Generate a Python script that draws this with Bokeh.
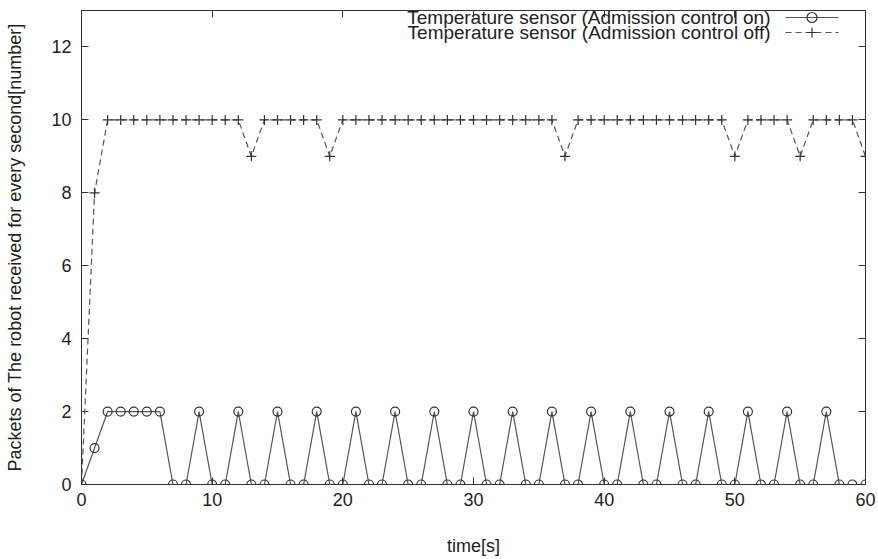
from bokeh.plotting import figure
from bokeh.models import (Range1d, LinearAxis, FixedTicker, Label, BoxAnnotation,
                          ColumnDataSource)
from bokeh.embed import file_html
from bokeh.resources import INLINE

# ---- data ----
time_s = [0, 1, 2, 3, 4, 5, 6, 7, 8, 9, 10, 11, 12, 13, 14, 15, 16, 17, 18, 19, 20,
          21, 22, 23, 24, 25, 26, 27, 28, 29, 30, 31, 32, 33, 34, 35, 36, 37, 38, 39, 40,
          41, 42, 43, 44, 45, 46, 47, 48, 49, 50, 51, 52, 53, 54, 55, 56, 57, 58, 59, 60]
admission_on = [0, 1, 2, 2, 2, 2, 2, 0, 0, 2, 0, 0, 2, 0, 0, 2, 0, 0, 2, 0, 0,
                2, 0, 0, 2, 0, 0, 2, 0, 0, 2, 0, 0, 2, 0, 0, 2, 0, 0, 2, 0,
                0, 2, 0, 0, 2, 0, 0, 2, 0, 0, 2, 0, 0, 2, 0, 0, 2, 0, 0, 0]
admission_off = [0, 8, 10, 10, 10, 10, 10, 10, 10, 10, 10, 10, 10, 9, 10, 10, 10, 10, 10, 9, 10,
                 10, 10, 10, 10, 10, 10, 10, 10, 10, 10, 10, 10, 10, 10, 10, 10, 9, 10, 10, 10,
                 10, 10, 10, 10, 10, 10, 10, 10, 10, 9, 10, 10, 10, 10, 9, 10, 10, 10, 10, 9]
x_ticks = [0, 10, 20, 30, 40, 50, 60]
y_ticks = [0, 2, 4, 6, 8, 10, 12]
label_on = "Temperature sensor (Admission control on)"
label_off = "Temperature sensor (Admission control off)"
x_title = "time[s]"
y_title = "Packets of The robot received for every second[number]"

FONT = "Liberation Sans"
FS = "18px"
INK = "#222222"
LINE = "#555555"
MARK = "#333333"

src = ColumnDataSource(dict(t=time_s, on=admission_on, off=admission_off))

p = figure(width=876, height=558, output_backend="svg", toolbar_location=None,
           x_range=Range1d(0, 60), y_range=Range1d(0, 13),
           min_border_left=81, min_border_right=11, min_border_top=10, min_border_bottom=72)
p.background_fill_color = "white"
p.border_fill_color = "white"
p.outline_line_color = "#333333"
p.outline_line_width = 1
p.xgrid.visible = False
p.ygrid.visible = False

for ax in (p.xaxis[0], p.yaxis[0]):
    ax.major_tick_in = 7
    ax.major_tick_out = 0
    ax.minor_tick_in = 0
    ax.minor_tick_out = 0
    ax.axis_line_color = "#333333"
    ax.major_tick_line_color = "#333333"
    ax.major_label_text_font = FONT
    ax.major_label_text_font_size = FS
    ax.major_label_text_color = INK
    ax.axis_label_text_font = FONT
    ax.axis_label_text_font_size = FS
    ax.axis_label_text_font_style = "normal"
    ax.axis_label_text_color = INK

p.xaxis[0].ticker = FixedTicker(ticks=x_ticks)
p.yaxis[0].ticker = FixedTicker(ticks=y_ticks)
p.xaxis[0].axis_label = x_title
p.yaxis[0].axis_label = y_title
p.xaxis[0].major_label_standoff = 8
p.xaxis[0].axis_label_standoff = 27
p.yaxis[0].major_label_standoff = 10
p.yaxis[0].axis_label_standoff = 23

# mirrored ticks (gnuplot style) drawn as minor ticks, so no labels are drawn
top = LinearAxis(ticker=FixedTicker(ticks=[], minor_ticks=x_ticks), major_tick_in=0,
                 major_tick_out=0, minor_tick_in=7, minor_tick_out=0,
                 major_label_standoff=0, axis_line_color=None,
                 minor_tick_line_color="#333333")
right = LinearAxis(ticker=FixedTicker(ticks=[], minor_ticks=y_ticks), major_tick_in=0,
                   major_tick_out=0, minor_tick_in=7, minor_tick_out=0,
                   major_label_standoff=0, axis_line_color=None,
                   minor_tick_line_color="#333333")
p.add_layout(top, "above")
p.add_layout(right, "right")

# series
p.line("t", "off", source=src, line_color=LINE, line_width=1.2, line_dash="6 4")
p.scatter("t", "off", source=src, marker="cross", size=10, line_color=MARK, line_width=1.2)
p.line("t", "on", source=src, line_color=LINE, line_width=1.2)
p.scatter("t", "on", source=src, marker="circle", size=9, line_color=MARK,
          fill_alpha=0, line_width=1.2)

# ---- key, gnuplot layout: right-aligned text, then the sample to its right ----
S = dict(left_units="screen", right_units="screen", top_units="screen",
         bottom_units="screen", fill_alpha=0, line_alpha=1.0, line_width=1.2,
         propagate_hover=False)
rows = [(label_on, 467, "solid"), (label_off, 452, "6 4")]
for txt, yy, dash in rows:
    p.add_layout(Label(x=689, y=yy, x_units="screen", y_units="screen", text=txt,
                       text_align="right", text_baseline="middle", text_font=FONT,
                       text_font_size="19px", text_color=INK))
    p.add_layout(BoxAnnotation(left=704, right=757, top=yy, bottom=yy,
                               line_color=LINE, line_dash=dash, **S))
# circle sample
p.add_layout(BoxAnnotation(left=725.5, right=735.5, top=472, bottom=462,
                           border_radius=5, line_color=MARK, **S))
# cross sample
p.add_layout(BoxAnnotation(left=725.5, right=735.5, top=452, bottom=452,
                           line_color=MARK, **S))
p.add_layout(BoxAnnotation(left=730.5, right=730.5, top=457, bottom=447,
                           line_color=MARK, **S))

open("out.html", "w").write(file_html(p, INLINE))
